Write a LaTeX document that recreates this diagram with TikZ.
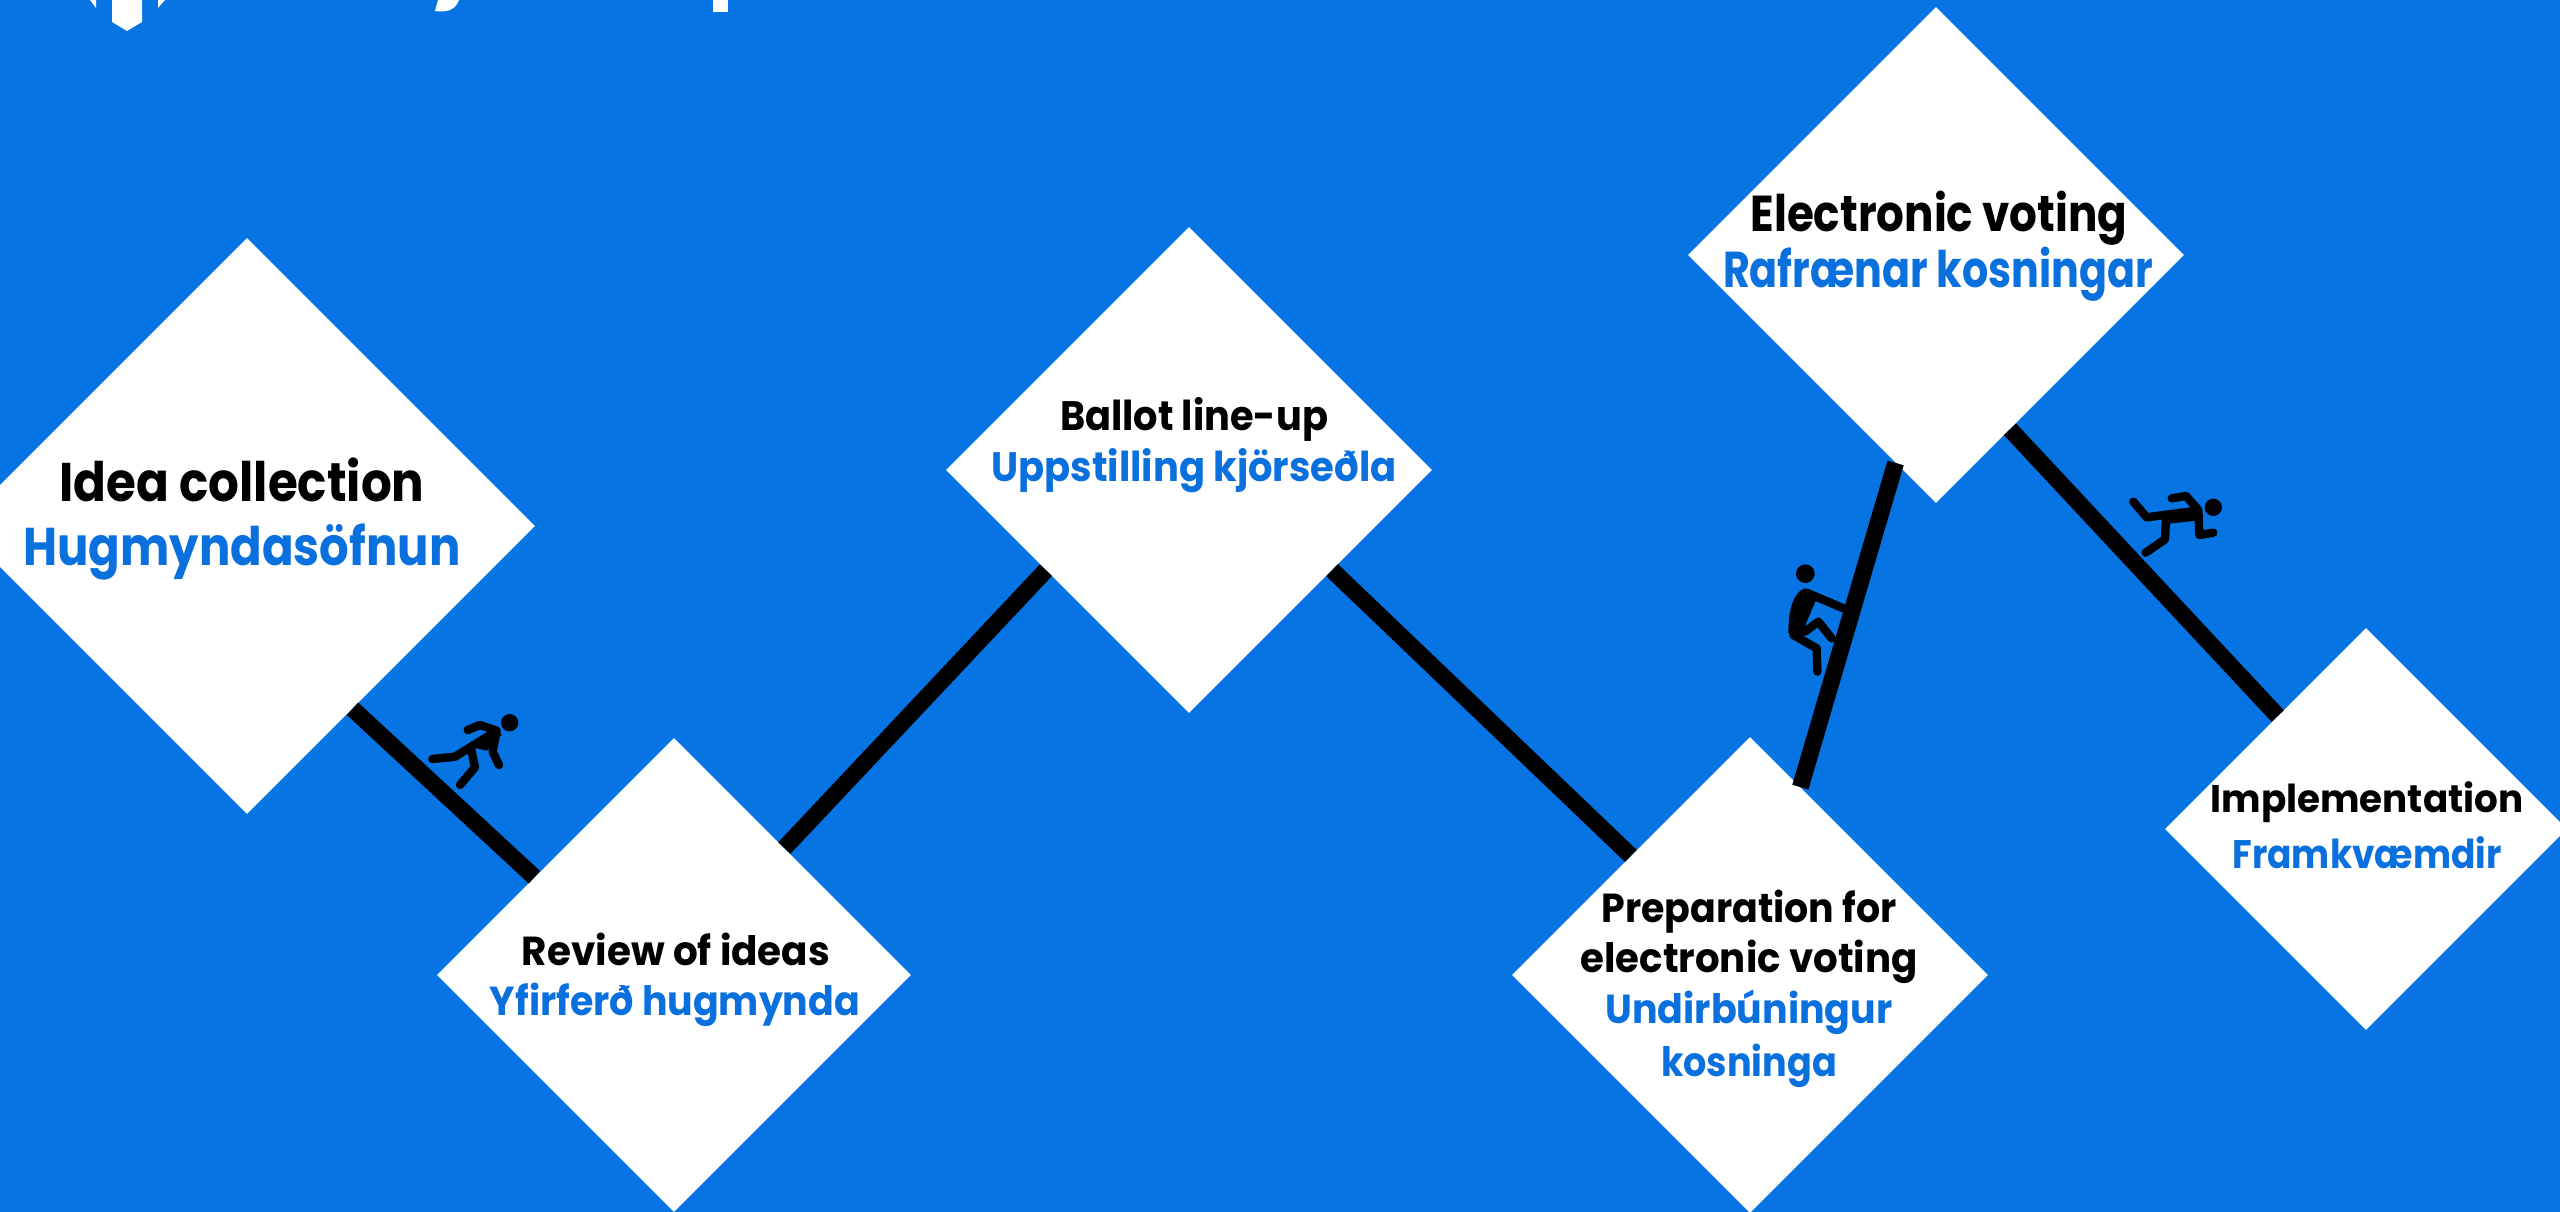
\documentclass[tikz,border=0pt]{standalone}
\usepackage{fontspec}
\setmainfont{Poppins}
\usetikzlibrary{shapes.geometric}
\definecolor{bgblue}{HTML}{0675E3}
\definecolor{txtblue}{HTML}{0A70DE}
\newlength\pxunit
\setlength\pxunit{0.75bp}
\newcommand{\wt}[2]{\resizebox{#1\pxunit}{\height}{#2}}
\tikzset{
 dia/.style={shape=diamond,fill=white,inner sep=0pt,aspect=1,minimum width=#1*1.5bp,minimum height=#1*1.5bp},
 link/.style={draw=black,line width=12.6bp},
 lab/.style={inner sep=0pt,anchor=base},
 fs/.style={lab,font=\fontsize{#1}{#1}\bfseries\selectfont},
 lim/.style={line width=6.3bp,line cap=round,line join=round,draw=black},
 logo/.style={fill=white,draw=none}
}
\begin{document}
\begin{tikzpicture}[x=0.75bp,y=-0.75bp]
\useasboundingbox (0,0) rectangle (2560,1212);
\fill[bgblue] (0,0) rectangle (2560,1212);
% logo fragments
\fill[logo] (90,0) -- (96,8) -- (96,0) -- cycle;
\fill[logo] (158,8) -- (165,0) -- (158,0) -- cycle;
\fill[logo] (112,0) -- (112,22) -- (127,31) -- (142,22) -- (142,0) -- cycle;
\fill[logo] (438,0) -- (459,0) .. controls (456,8) and (450,13) .. (435,11) -- cycle;
\fill[logo] (713,0) rectangle (728,12);
% nodes
\node[dia=288] (idea) at (247,526) {};
\node[dia=237] (review) at (674,975) {};
\node[dia=243] (ballot) at (1189,470) {};
\node[dia=248] (evote) at (1936,255) {};
\node[dia=238] (prep) at (1750,975) {};
\node[dia=201] (impl) at (2366,829) {};
% connectors
\draw[link] (idea.-60.6) -- (review.145.9);
\draw[link] (review.49.5) -- (ballot.215.7);
\draw[link] (ballot.-35) -- (prep.135.7);
\draw[link] (prep.75) -- (evote.259);
\draw[link] (evote.-67) -- (impl.128.5);
% labels
\node[fs=41] (t1) at (242,502) {\wt{365}{Idea collection}};
\node[fs=40,text=txtblue] (t2) at (242,565) {\wt{437}{Hugmyndasöfnun}};
\node[fs=30.5] (t3) at (676,965) {\wt{308}{Review of ideas}};
\node[fs=30.5,text=txtblue] (t4) at (675,1015) {\wt{370}{Yfirferð hugmynda}};
\node[fs=31] (t5) at (1194,431) {\wt{268}{Ballot line-up}};
\node[fs=31,text=txtblue] (t6) at (1194,482) {\wt{405}{Uppstilling kjörseðla}};
\node[fs=38] (t7) at (1939,232) {\wt{377}{Electronic voting}};
\node[fs=38,text=txtblue] (t8) at (1938,288) {\wt{430}{Rafrænar kosningar}};
\node[fs=30.5] (t9) at (1749,922) {\wt{295}{Preparation for}};
\node[fs=30.5] (t10) at (1749,972) {\wt{337}{electronic voting}};
\node[fs=30.5,text=txtblue] (t11) at (1749,1023) {\wt{287}{Undirbúningur}};
\node[fs=30.5,text=txtblue] (t12) at (1749,1076) {\wt{176}{kosninga}};
\node[fs=29] (t13) at (2367,812) {\wt{313}{Implementation}};
\node[fs=30,text=txtblue] (t14) at (2367,868) {\wt{269}{Framkvæmdir}};
% runner 1
\begin{scope}[shift={(320,680)},x=0.25bp,y=-0.25bp]
\fill (569,128) circle[radius=26*0.25bp];
\draw[lim] (337,237) -- (405,230) -- (510,165);
\draw[lim] (443,150) -- (480,135) -- (530,152) -- (518,215) -- (537,255);
\draw[lim] (455,215) -- (465,262) -- (420,315);
\fill (470,205) -- (530,150) -- (545,165) -- (500,212) -- cycle;
\end{scope}
% runner 2
\begin{scope}[shift={(2000,420)},x=0.25bp,y=-0.25bp]
\fill (640,262) circle[radius=26*0.25bp];
\draw[lim] (400,245) -- (440,292) -- (590,272);
\draw[lim] (515,235) -- (558,228) -- (595,270) -- (598,345) -- (640,338);
\draw[lim] (498,295) -- (495,358) -- (437,398);
\fill (480,280) -- (590,262) -- (607,300) -- (500,312) -- cycle;
\end{scope}
% climber
\begin{scope}[shift={(1740,420)},x=0.25bp,y=-0.25bp]
\fill (196,461) circle[radius=28*0.25bp];
\draw[lim] (200,518) -- (310,565);
\draw[lim] (195,635) -- (235,605) -- (275,655);
\draw[lim] (232,755) -- (230,685) -- (160,645);
\fill (195,505) .. controls (160,515) and (145,570) .. (145,640) -- (190,650) -- (198,610) -- (228,540) -- cycle;
\end{scope}
\end{tikzpicture}
\end{document}
